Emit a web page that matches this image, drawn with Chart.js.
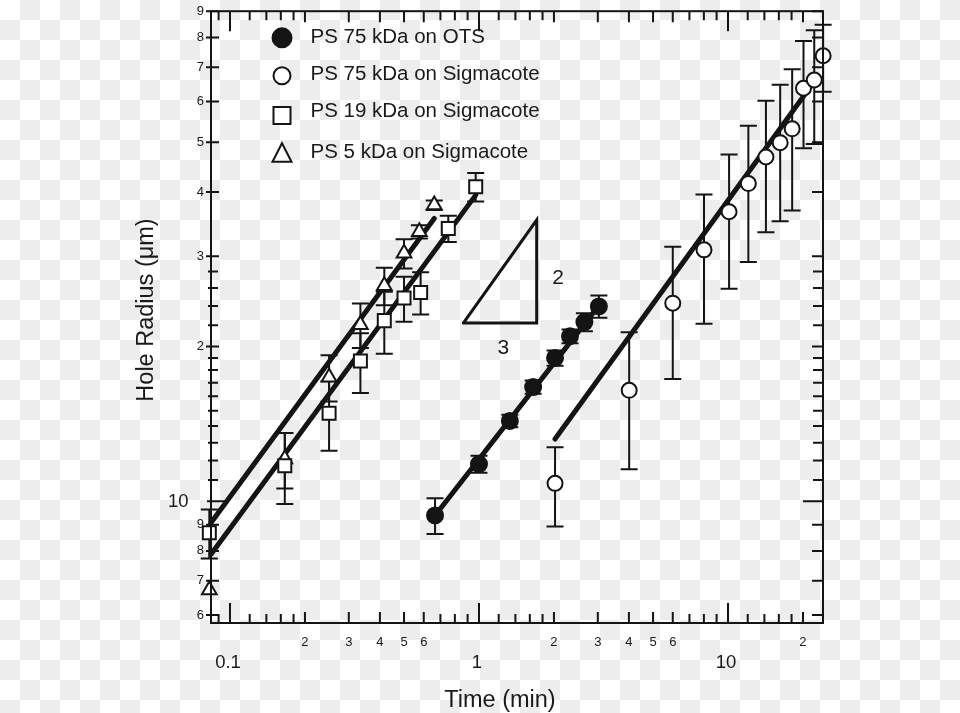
<!DOCTYPE html>
<html>
<head>
<meta charset="utf-8">
<script src="https://cdn.jsdelivr.net/npm/chart.js@4"></script>
<style>
  body { margin: 0; background: #fff; }
  canvas { display: block; }
</style>
</head>
<body>
<canvas id="chart" width="960" height="713"></canvas>
<script>
// time (min) vs hole radius (um)
const otsTime = [0.666, 1.0, 1.33, 1.65, 2.02, 2.32, 2.65, 3.03];
const otsRadius = [9.38, 11.81, 14.33, 16.68, 19.01, 20.95, 22.33, 23.95];
const otsErr = [0.75, 0.45, 0.4, 0.5, 0.65, 0.65, 0.9, 1.2];

const sig75Time = [2.02, 4.01, 6.0, 8.01, 10.1, 12.07, 14.2, 16.2, 18.1, 20.1, 22.2, 24.1];
const sig75Radius = [10.83, 16.44, 24.3, 30.86, 36.61, 41.54, 46.8, 49.9, 53.1, 63.7, 66.1, 73.7];
const sig75Err = [1.9, 4.9, 7.0, 8.7, 10.7, 12.3, 13.4, 14.8, 16.3, 15.0, 16.5, 11.0];

const sig19Time = [0.0826, 0.166, 0.25, 0.334, 0.4166, 0.5, 0.583, 0.753, 0.97];
const sig19Radius = [8.68, 11.72, 14.83, 18.74, 22.47, 24.86, 25.5, 33.98, 40.94];
const sig19Err = [0.95, 1.85, 2.3, 2.5, 3.1, 2.5, 2.4, 2.0, 2.6];

const sig5Time = [0.0826, 0.166, 0.25, 0.334, 0.4166, 0.5, 0.576, 0.661];
const sig5Radius = [6.71, 12.08, 17.44, 22.07, 26.27, 30.38, 33.48, 37.72];
const sig5Err = [0, 1.5, 1.8, 2.2, 2.2, 2.0, 1.0, 0.8];

// fitted lines (end points)
const fitOtsTime = [0.666, 3.0];
const fitOtsRadius = [9.38, 23.9];
const fitSig75Time = [2.02, 21.75];
const fitSig75Radius = [13.21, 64.8];
const fitSig19Time = [0.0839, 0.97];
const fitSig19Radius = [7.88, 39.45];
const fitSig5Time = [0.0839, 0.661];
const fitSig5Radius = [9.08, 35.53];

// 2/3 slope triangle
const slopeTime = [0.865, 1.705, 1.705, 0.865];
const slopeRadius = [22.23, 22.23, 35.28, 22.23];
const slopeLabelText = ["2", "3"];
const slopeLabelTime = [2.08, 1.252];
const slopeLabelRadius = [27.18, 19.89];

// axes
const xMin = 0.0839, xMax = 24.07;
const yMin = 5.79, yMax = 90;
const xMajorTicks = [0.1, 1, 10];
const xMajorLabels = ["0.1", "1", "10"];
const xLabelTicks = [0.2, 0.3, 0.4, 0.5, 0.6, 2, 3, 4, 5, 6, 20];
const xLabelText = ["2", "3", "4", "5", "6", "2", "3", "4", "5", "6", "2"];
const xMinorTicks = [0.09, 0.12, 0.14, 0.16, 0.18, 0.7, 0.8, 0.9, 1.2, 1.4, 1.6, 1.8, 7, 8, 9, 12, 14, 16, 18];
const yMajorTicks = [10];
const yMajorLabels = ["10"];
const yLabelTicks = [6, 7, 8, 9, 20, 30, 40, 50, 60, 70, 80, 90];
const yLabelText = ["6", "7", "8", "9", "2", "3", "4", "5", "6", "7", "8", "9"];
const yMinorTicks = [11, 12, 13, 14, 15, 16, 17, 18, 19, 22, 24, 26, 28];

const INK = "#141414";
const FONT = "'Liberation Sans', Arial, Helvetica, sans-serif";

function pts(xs, ys) {
  return xs.map((x, i) => ({ x: x, y: ys[i] }));
}

function marker(ctx, style, x, y, r, fill) {
  ctx.beginPath();
  if (style === "circle") {
    ctx.arc(x, y, r, 0, Math.PI * 2);
  } else if (style === "rect") {
    ctx.rect(x - r, y - r, 2 * r, 2 * r);
  } else {
    ctx.moveTo(x, y - r);
    ctx.lineTo(x + r, y + r * 0.95);
    ctx.lineTo(x - r, y + r * 0.95);
    ctx.closePath();
  }
  ctx.fillStyle = fill;
  ctx.fill();
  ctx.stroke();
}

const frame = {
  id: "frame",
  beforeDraw(chart) {
    // checkered backdrop, 20px squares
    const ctx = chart.ctx;
    ctx.save();
    ctx.fillStyle = "#fff";
    ctx.fillRect(0, 0, chart.width, chart.height);
    ctx.fillStyle = "#ededed";
    for (let j = 0; j * 20 < chart.height; j++) {
      for (let i = 0; i * 20 < chart.width; i++) {
        if ((i + j) % 2) ctx.fillRect(i * 20, j * 20, 20, 20);
      }
    }
    ctx.restore();
  },
  beforeDatasetsDraw(chart) {
    // error bars under the markers
    const ctx = chart.ctx, xs = chart.scales.x, ys = chart.scales.y;
    ctx.save();
    ctx.strokeStyle = INK;
    ctx.lineWidth = 2;
    chart.data.datasets.forEach((ds) => {
      if (!ds.err) return;
      ds.data.forEach((p, i) => {
        const e = ds.err[i];
        if (!e) return;
        const px = xs.getPixelForValue(p.x);
        const top = ys.getPixelForValue(p.y + e);
        const bot = ys.getPixelForValue(p.y - e);
        ctx.beginPath();
        ctx.moveTo(px, top); ctx.lineTo(px, bot);
        ctx.moveTo(px - 8.5, top); ctx.lineTo(px + 8.5, top);
        ctx.moveTo(px - 8.5, bot); ctx.lineTo(px + 8.5, bot);
        ctx.stroke();
      });
    });
    ctx.restore();
  },
  afterDraw(chart) {
    const ctx = chart.ctx, xs = chart.scales.x, ys = chart.scales.y;
    const a = chart.chartArea;
    ctx.save();
    ctx.strokeStyle = INK;
    ctx.fillStyle = INK;
    ctx.lineWidth = 2;
    ctx.strokeRect(a.left, a.top, a.right - a.left, a.bottom - a.top);

    // x ticks, pointing inwards on bottom and top
    const xt = (vals, len) => vals.forEach((v) => {
      const px = xs.getPixelForValue(v);
      ctx.beginPath();
      ctx.moveTo(px, a.bottom); ctx.lineTo(px, a.bottom - len);
      ctx.moveTo(px, a.top); ctx.lineTo(px, a.top + len);
      ctx.stroke();
    });
    xt(xMinorTicks, 9);
    xt(xLabelTicks, 11);
    xt(xMajorTicks, 20);

    // y ticks, left ones cross the axis
    const yt = (vals, out, inL, inR) => vals.forEach((v) => {
      const py = ys.getPixelForValue(v);
      ctx.beginPath();
      ctx.moveTo(a.left - out, py); ctx.lineTo(a.left + inL, py);
      ctx.moveTo(a.right, py); ctx.lineTo(a.right - inR, py);
      ctx.stroke();
    });
    yt(yMinorTicks, 3, 7, 10);
    yt(yLabelTicks, 5, 8, 11);
    yt(yMajorTicks, 4, 16, 20);

    // tick labels
    ctx.fillStyle = "#1a1a1a";
    ctx.textAlign = "center";
    ctx.textBaseline = "alphabetic";
    ctx.font = "13px " + FONT;
    xLabelTicks.forEach((v, i) => {
      ctx.fillText(xLabelText[i], xs.getPixelForValue(v), 645.5);
    });
    ctx.font = "18.5px " + FONT;
    xMajorTicks.forEach((v, i) => {
      ctx.fillText(xMajorLabels[i], xs.getPixelForValue(v) - 2, 668);
    });
    ctx.textAlign = "right";
    ctx.textBaseline = "middle";
    ctx.font = "13px " + FONT;
    yLabelTicks.forEach((v, i) => {
      ctx.fillText(yLabelText[i], 204, ys.getPixelForValue(v));
    });
    ctx.font = "18.5px " + FONT;
    yMajorTicks.forEach((v, i) => {
      ctx.fillText(yMajorLabels[i], 188.5, ys.getPixelForValue(v) + 1);
    });

    // axis titles
    ctx.textAlign = "center";
    ctx.textBaseline = "alphabetic";
    ctx.font = "23.5px " + FONT;
    ctx.fillText("Time (min)", 500, 706.5);
    ctx.save();
    ctx.translate(153, 310);
    ctx.rotate(-Math.PI / 2);
    ctx.fillText("Hole Radius (\u03bcm)", 0, 0);
    ctx.restore();

    // slope labels
    ctx.font = "21px " + FONT;
    ctx.textBaseline = "middle";
    slopeLabelText.forEach((t, i) => {
      ctx.fillText(t, xs.getPixelForValue(slopeLabelTime[i]), ys.getPixelForValue(slopeLabelRadius[i]));
    });

    // legend
    const rows = [37.8, 75.8, 115.5, 152.8];
    const base = [42.7, 80, 117.3, 158.3];
    ctx.textAlign = "left";
    ctx.textBaseline = "alphabetic";
    ctx.font = "20.5px " + FONT;
    chart.data.datasets.filter((ds) => ds.err).forEach((ds, i) => {
      ctx.lineWidth = 2;
      ctx.strokeStyle = INK;
      const filled = ds.backgroundColor === INK;
      marker(ctx, ds.pointStyle, 282, rows[i], ds.pointStyle === "triangle" ? 9.5 : (filled ? 9.5 : 8.5), filled ? INK : "#fff");
      ctx.fillStyle = "#1a1a1a";
      ctx.fillText(ds.label, 310.5, base[i]);
    });
    ctx.restore();
  },
};

function markerSet(label, xs, ys, err, style, fill, r) {
  return {
    label: label,
    data: pts(xs, ys),
    err: err,
    showLine: false,
    pointStyle: style,
    pointRadius: r,
    pointHoverRadius: r,
    backgroundColor: fill,
    borderColor: INK,
    borderWidth: 2,
    clip: false,
    order: 0,
  };
}

function lineSet(xs, ys, width) {
  return {
    label: "",
    data: pts(xs, ys),
    showLine: true,
    pointRadius: 0,
    borderColor: INK,
    borderWidth: width,
    borderCapStyle: "round",
    fill: false,
    clip: false,
    order: 1,
  };
}

const chart = new Chart("chart", {
  type: "scatter",
  data: {
    datasets: [
      markerSet("PS 75 kDa on OTS", otsTime, otsRadius, otsErr, "circle", INK, 8),
      markerSet("PS 75 kDa on Sigmacote", sig75Time, sig75Radius, sig75Err, "circle", "#fff", 7.5),
      markerSet("PS 19 kDa on Sigmacote", sig19Time, sig19Radius, sig19Err, "rect", "#fff", 9.2),
      markerSet("PS 5 kDa on Sigmacote", sig5Time, sig5Radius, sig5Err, "triangle", "#fff", 8.5),
      lineSet(fitOtsTime, fitOtsRadius, 5),
      lineSet(fitSig75Time, fitSig75Radius, 5),
      lineSet(fitSig19Time, fitSig19Radius, 5),
      lineSet(fitSig5Time, fitSig5Radius, 5),
      lineSet(slopeTime, slopeRadius, 3),
    ],
  },
  options: {
    responsive: false,
    animation: false,
    devicePixelRatio: 1,
    layout: { padding: { left: 211, right: 137, top: 9, bottom: 90 } },
    scales: {
      x: { type: "logarithmic", min: xMin, max: xMax, display: false },
      y: { type: "logarithmic", min: yMin, max: yMax, display: false },
    },
    plugins: {
      legend: { display: false },
      tooltip: { enabled: false },
    },
  },
  plugins: [frame],
});
</script>
</body>
</html>
